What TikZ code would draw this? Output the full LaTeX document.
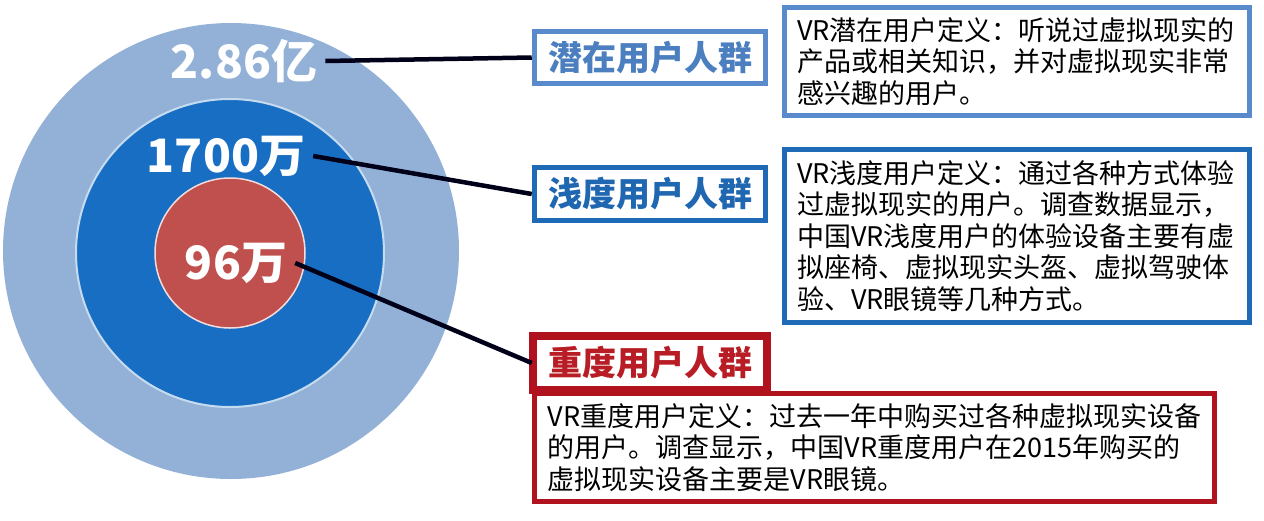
\documentclass[tikz,border=0pt]{standalone}
\usepackage{fontspec}
\setmainfont{Noto Sans CJK SC}
\newfontfamily\cjk{Noto Sans CJK SC}
\usetikzlibrary{positioning}

\definecolor{ringout}{RGB}{147,177,215}
\definecolor{ringmid}{RGB}{24,110,194}
\definecolor{ringin}{RGB}{192,80,77}
\definecolor{qianblue}{RGB}{88,138,204}
\definecolor{qiantext}{RGB}{76,127,192}
\definecolor{qdblue}{RGB}{30,106,182}
\definecolor{qdtext}{RGB}{31,103,176}
\definecolor{zdred}{RGB}{176,18,30}
\definecolor{zdtext}{RGB}{184,28,36}

\tikzset{
  numlabel/.style={text=white, font=\cjk\bfseries\fontsize{46}{46}\selectfont, inner sep=8pt},
  headbox/.style={draw, line width=5.5pt, fill=white, minimum width=231pt, inner sep=0pt,
    font=\cjk\bfseries\fontsize{34}{34}\selectfont},
  defbox/.style={draw, line width=5.5pt, fill=white, align=left, anchor=center, inner sep=0pt,
    font=\cjk\fontsize{27}{31.5}\selectfont},
  link/.style={line width=4.5pt, draw=black!90!blue}
}

\begin{document}
\begin{tikzpicture}[x=1pt,y=-1pt]
  \useasboundingbox (0,0) rectangle (1264,520);

  % the three rings
  \node[circle, fill=ringout, minimum size=456pt, inner sep=0pt] (outer) at (231,251) {};
  \node[circle, fill=ringmid, draw=white!75!ringmid, line width=2pt,
        minimum size=308pt, inner sep=0pt] (middle) at (230,253) {};
  \node[circle, fill=ringin, draw=white!80!ringin, line width=1.5pt,
        minimum size=150pt, inner sep=0pt] (inner) at (230,253) {};

  \node[numlabel] (n1) at (244,61) {2.86亿};
  \node[numlabel] (n2) at (226,156) {1700万};
  \node[numlabel] (n3) at (236,263) {96万};

  % group headings
  \node[headbox, draw=qianblue, text=qiantext, minimum height=52pt] (h1) at (650,57.5) {潜在用户人群};
  \node[headbox, draw=qdblue, text=qdtext, minimum height=53pt] (h2) at (650,194) {浅度用户人群};
  \node[headbox, draw=zdred, text=zdtext, minimum height=51pt] (h3) at (650,363) {重度用户人群};

  % definitions
  \node[defbox, draw=qianblue, minimum width=465pt, minimum height=108pt, text width=440pt] (d1) at (1017,61.5)
    {VR潜在用户定义：听说过虚拟现实的\\产品或相关知识，并对虚拟现实非常\\感兴趣的用户。};
  \node[defbox, draw=qdblue, minimum width=465pt, minimum height=173pt, text width=440pt] (d2) at (1017,236)
    {VR浅度用户定义：通过各种方式体验\\过虚拟现实的用户。调查数据显示，\\中国VR浅度用户的体验设备主要有虚\\拟座椅、虚拟现实头盔、虚拟驾驶体\\验、VR眼镜等几种方式。};
  \node[defbox, draw=zdred, minimum width=680pt, minimum height=108pt, text width=654pt] (d3) at (874.5,447.5)
    {VR重度用户定义：过去一年中购买过各种虚拟现实设备\\的用户。调查显示，中国VR重度用户在2015年购买的\\虚拟现实设备主要是VR眼镜。};
  \draw[zdred, line width=5.5pt] (h3.south west) rectangle (h3.north east);

  % connectors
  \draw[link] (n1.east) -- (h1.west);
  \draw[link] (n2.east) -- (h2.west);
  \draw[link] (n3.east) -- (h3.west);
\end{tikzpicture}
\end{document}
